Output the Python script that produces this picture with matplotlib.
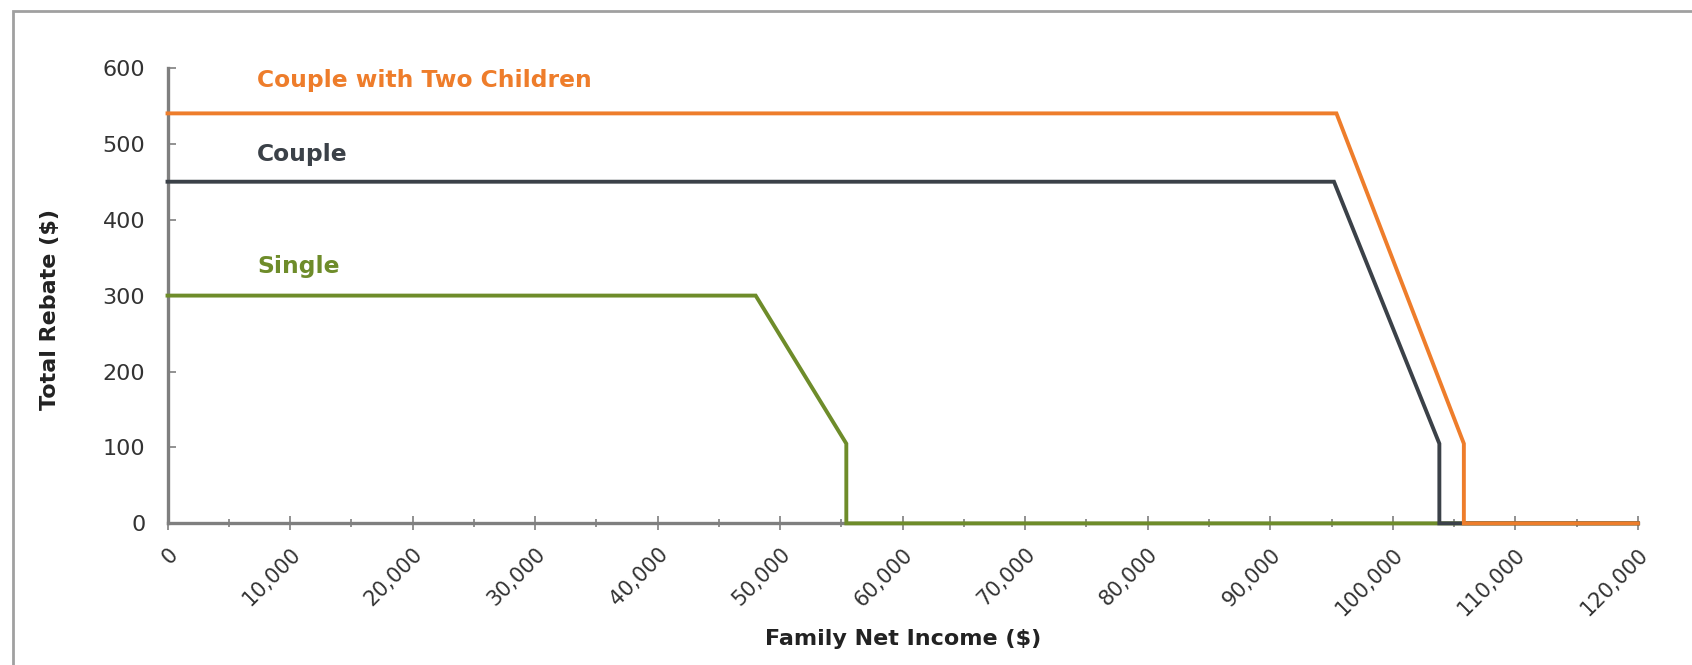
import numpy as np
import matplotlib
matplotlib.use("Agg")
import matplotlib.pyplot as plt
from matplotlib.patches import Rectangle
from matplotlib.ticker import FuncFormatter, MultipleLocator

plt.rcParams["font.family"] = ["DejaVu Sans"]

# income breakpoints ($) and rebate ($) for each family type
single_x = [0, 48000, 55400, 55400, 120000]
single_y = [300, 300, 105, 0, 0]
couple_x = [0, 95200, 103800, 103800, 120000]
couple_y = [450, 450, 105, 0, 0]
kids_x = [0, 95400, 105800, 105800, 120000]
kids_y = [540, 540, 105, 0, 0]

names = ["Single", "Couple", "Couple with Two Children"]
colors = ["#6E8C2A", "#3B4148", "#EE7D2B"]
label_y = [338, 486, 583]

fig = plt.figure(figsize=(16.92, 6.65), dpi=100)
ax = fig.add_axes([0.099, 0.213, 0.869, 0.685])

for xs, ys, c in zip([single_x, couple_x, kids_x], [single_y, couple_y, kids_y], colors):
    ax.plot(xs, ys, color=c, lw=2.8, solid_joinstyle="miter", clip_on=False, zorder=3)

for n, c, yy in zip(names, colors, label_y):
    ax.text(7300, yy, n, color=c, fontsize=16.8, fontweight="bold", va="center", ha="left")

ax.set_xlim(0, 120000)
ax.set_ylim(0, 600)
ax.xaxis.set_major_locator(MultipleLocator(10000))
ax.xaxis.set_minor_locator(MultipleLocator(5000))
ax.yaxis.set_major_locator(MultipleLocator(100))
ax.xaxis.set_major_formatter(FuncFormatter(lambda v, p: f"{int(v):,}"))

for s in ["top", "right"]:
    ax.spines[s].set_visible(False)
for s in ["left", "bottom"]:
    ax.spines[s].set_color("#7F7F7F")
    ax.spines[s].set_linewidth(2.4)

ax.tick_params(axis="x", which="major", direction="inout", length=10, width=1.2,
               color="#7F7F7F", labelsize=15, labelcolor="#333333", pad=10)
ax.tick_params(axis="x", which="minor", direction="inout", length=6, width=1.2, color="#7F7F7F")
ax.tick_params(axis="y", which="major", direction="in", length=6, width=1.2,
               color="#7F7F7F", labelsize=16, labelcolor="#333333", pad=16)
plt.setp(ax.get_xticklabels(), rotation=45, ha="right", rotation_mode="anchor")

ax.set_xlabel("Family Net Income ($)", fontsize=16, fontweight="bold", color="#222222")
ax.set_ylabel("Total Rebate ($)", fontsize=16, fontweight="bold", color="#222222")
ax.xaxis.set_label_coords(0.5, -0.231)
ax.yaxis.set_label_coords(-0.073, 0.47)

# frame around the picture (cropped at right and bottom)
fig.patches.append(Rectangle((13 / 1692, -0.1), 1.5, 1.1 - 11 / 665, transform=fig.transFigure,
                             fill=False, edgecolor="#A0A0A0", lw=2))

fig.savefig("out.png", dpi=100)
